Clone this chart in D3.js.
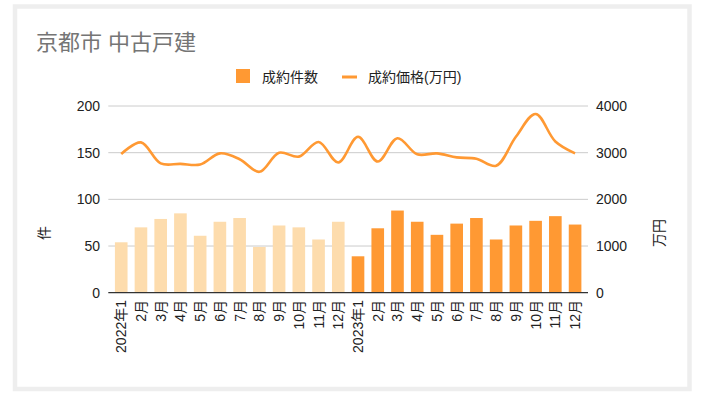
<!DOCTYPE html>
<html><head><meta charset="utf-8">
<script src="https://cdn.jsdelivr.net/npm/d3@7"></script>
<style>
html,body{margin:0;padding:0;background:#fff;}
text{font-family:"Liberation Sans",Arial,"Noto Sans CJK JP",sans-serif;}
</style></head>
<body>
<svg id="c" width="703" height="398"></svg>
<script>
const categories = ["2022年1","2月","3月","4月","5月","6月","7月","8月","9月","10月","11月","12月",
                    "2023年1","2月","3月","4月","5月","6月","7月","8月","9月","10月","11月","12月"];
const years = [2022,2022,2022,2022,2022,2022,2022,2022,2022,2022,2022,2022,
               2023,2023,2023,2023,2023,2023,2023,2023,2023,2023,2023,2023];
const counts = [54,70,79,85,61,76,80,49,72,70,57,76,
                39,69,88,76,62,74,80,57,72,77,82,73];
const prices = [2970,3220,2770,2760,2745,2985,2860,2590,3000,2915,3230,2790,
                3340,2810,3310,2965,2985,2900,2870,2720,3340,3830,3240,2985];
const leftTicks = [0,50,100,150,200];
const rightTicks = [0,1000,2000,3000,4000];
const title = "京都市 中古戸建";
const seriesNames = ["成約件数","成約価格(万円)"];
const leftTitle = "件", rightTitle = "万円";

const svg = d3.select("#c");
const ORANGE = "#ff9933", LIGHT = "#fddcad";
svg.append("rect").attr("x",15).attr("y",6.5).attr("width",674.5).attr("height",382.5)
  .attr("fill","#fff").attr("stroke","#eeeeee").attr("stroke-width",4.5);

const x0 = 108.3, x1 = 588, yTop = 106, yBot = 292.7;
const x = d3.scaleBand().domain(d3.range(categories.length)).range([x0,x1]).paddingInner(0.36).paddingOuter(0.335);
const yL = d3.scaleLinear().domain([0,200]).range([yBot,yTop]);
const yR = d3.scaleLinear().domain([0,4000]).range([yBot,yTop]);

// gridlines
svg.append("g").selectAll("line").data(leftTicks.slice(1)).join("line")
  .attr("x1",x0).attr("x2",x1).attr("y1",d=>yL(d)).attr("y2",d=>yL(d))
  .attr("stroke","#cccccc").attr("stroke-width",1);

// bars
svg.append("g").selectAll("rect").data(counts).join("rect")
  .attr("x",(d,i)=>x(i)).attr("width",x.bandwidth())
  .attr("y",d=>yL(d)).attr("height",d=>yBot-yL(d))
  .attr("fill",(d,i)=>years[i]===2022?LIGHT:ORANGE);

// baseline
svg.append("line").attr("x1",x0).attr("x2",x1).attr("y1",yBot).attr("y2",yBot)
  .attr("stroke","#333").attr("stroke-width",1.2);

// line
const line = d3.line().x((d,i)=>x(i)+x.bandwidth()/2).y(d=>yR(d)).curve(d3.curveCatmullRom.alpha(0.5));
svg.append("path").datum(prices).attr("d",line).attr("fill","none")
  .attr("stroke",ORANGE).attr("stroke-width",2.6).attr("stroke-linejoin","round");

// left axis labels
svg.append("g").selectAll("text").data(leftTicks).join("text")
  .attr("x",100).attr("y",d=>yL(d)).attr("dy","0.36em").attr("text-anchor","end")
  .attr("font-size",14).attr("fill","#222").text(d=>d);
// right axis labels
svg.append("g").selectAll("text").data(rightTicks).join("text")
  .attr("x",596).attr("y",d=>yR(d)).attr("dy","0.36em").attr("text-anchor","start")
  .attr("font-size",14).attr("fill","#222").text(d=>d);

// x labels
svg.append("g").selectAll("text").data(categories).join("text")
  .attr("transform",(d,i)=>`translate(${x(i)+x.bandwidth()/2+5},300) rotate(-90)`)
  .attr("text-anchor","end").attr("font-size",14).attr("fill","#222").text(d=>d);

// axis titles
svg.append("text").attr("transform","translate(49,233) rotate(-90)").attr("text-anchor","middle")
  .attr("font-size",14).attr("fill","#222").text(leftTitle);
svg.append("text").attr("transform","translate(664,233) rotate(-90)").attr("text-anchor","middle")
  .attr("font-size",14).attr("fill","#222").text(rightTitle);

// title
svg.append("text").attr("x",36).attr("y",50).attr("font-size",22).attr("fill","#757575").text(title);

// legend
svg.append("rect").attr("x",236).attr("y",69).attr("width",14).attr("height",14).attr("fill",ORANGE);
svg.append("text").attr("x",262).attr("y",81.5).attr("font-size",14).attr("fill","#222").text(seriesNames[0]);
svg.append("rect").attr("x",342).attr("y",75.5).attr("width",15).attr("height",3).attr("fill",ORANGE);
svg.append("text").attr("x",368).attr("y",81.5).attr("font-size",14).attr("fill","#222").text(seriesNames[1]);
</script>
</body></html>
